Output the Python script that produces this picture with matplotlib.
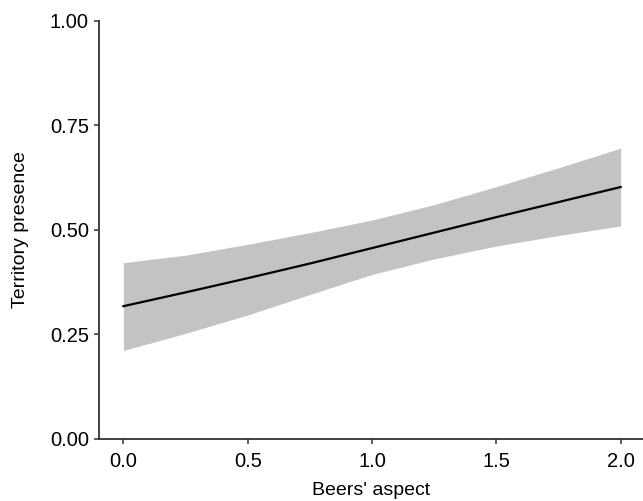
import matplotlib.pyplot as plt
import numpy as np

plt.rcParams['font.family'] = ['Liberation Sans', 'DejaVu Sans']

# values
aspect = [0.0, 0.25, 0.5, 0.75, 1.0, 1.25, 1.5, 1.75, 2.0]
fit = [0.317, 0.350, 0.384, 0.419, 0.456, 0.493, 0.530, 0.566, 0.602]
upper = [0.421, 0.439, 0.465, 0.493, 0.523, 0.560, 0.603, 0.648, 0.695]
lower = [0.211, 0.252, 0.296, 0.345, 0.393, 0.430, 0.461, 0.486, 0.509]

y_ticks = [0.0, 0.25, 0.5, 0.75, 1.0]
x_ticks = [0.0, 0.5, 1.0, 1.5, 2.0]

fig = plt.figure(figsize=(6.43, 5.01), dpi=100)
ax = fig.add_axes([0.1544, 0.1244, 0.8456, 0.8343])

ax.fill_between(aspect, lower, upper, color='#c3c3c3', linewidth=0)
ax.plot(aspect, fit, color='black', linewidth=1.6)

ax.set_xlim(-0.097, 2.09)
ax.set_ylim(0, 1)
ax.set_xticks(x_ticks, [f'{v:.1f}' for v in x_ticks])
ax.set_yticks(y_ticks, [f'{v:.2f}' for v in y_ticks])

for side in ['top', 'right']:
    ax.spines[side].set_visible(False)
for side in ['left', 'bottom']:
    ax.spines[side].set_linewidth(1.3)
    ax.spines[side].set_color('#333333')
ax.tick_params(length=3.5, width=1.1, color='#333333', labelsize=14.5, labelcolor='black')
ax.tick_params(axis='x', pad=6)
ax.tick_params(axis='y', pad=4)

ax.set_xlabel("Beers' aspect", fontsize=14, labelpad=8)
ax.set_ylabel('Territory presence', fontsize=14, labelpad=15)

fig.savefig('out.png', dpi=100)
